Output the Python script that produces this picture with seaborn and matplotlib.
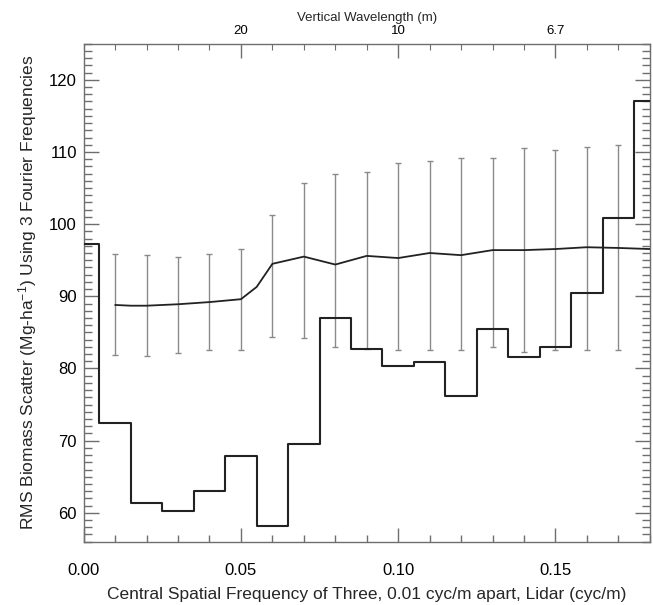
import matplotlib
matplotlib.use("Agg")
import matplotlib.pyplot as plt
from matplotlib.ticker import MultipleLocator, FixedLocator
import seaborn as sns
import pandas as pd

# ---- data ----
step_freq = [0.00, 0.01, 0.02, 0.03, 0.04, 0.05, 0.06, 0.07, 0.08, 0.09,
             0.10, 0.11, 0.12, 0.13, 0.14, 0.15, 0.16, 0.17, 0.18]
step_rms = [97.3, 72.4, 61.3, 60.2, 63.05, 67.9, 58.2, 69.6, 87.05, 82.75,
            80.3, 80.9, 76.2, 85.5, 81.6, 83.0, 90.5, 100.9, 117.0]

line_freq = [0.01, 0.015, 0.02, 0.03, 0.04, 0.05, 0.055, 0.06, 0.07, 0.08,
             0.09, 0.10, 0.11, 0.12, 0.13, 0.14, 0.15, 0.16, 0.17, 0.18]
line_rms = [88.8, 88.7, 88.7, 88.9, 89.2, 89.6, 91.3, 94.5, 95.5, 94.4,
            95.6, 95.3, 96.0, 95.7, 96.4, 96.4, 96.55, 96.8, 96.7, 96.55]

err_freq = [0.01, 0.02, 0.03, 0.04, 0.05, 0.06, 0.07, 0.08, 0.09,
            0.10, 0.11, 0.12, 0.13, 0.14, 0.15, 0.16, 0.17]
err_low = [81.8, 81.7, 82.1, 82.5, 82.6, 84.4, 84.2, 83.0, 82.75,
           82.5, 82.6, 82.5, 83.0, 82.3, 82.6, 82.6, 82.5]
err_high = [95.8, 95.7, 95.5, 95.8, 96.5, 101.3, 105.7, 107.0, 107.2,
            108.4, 108.7, 109.1, 109.1, 110.6, 110.3, 110.7, 110.9]

top_tick_pos = [0.05, 0.10, 0.15]
top_tick_labels = ["20", "10", "6.7"]
bottom_ticks = [0.00, 0.05, 0.10, 0.15]
bottom_tick_labels = ["0.00", "0.05", "0.10", "0.15"]
y_ticks = [60, 70, 80, 90, 100, 110, 120]

# ---- style ----
sns.set_style("ticks")
plt.rcParams["font.family"] = ["Liberation Sans", "DejaVu Sans"]
plt.rcParams["mathtext.fontset"] = "custom"
plt.rcParams["mathtext.rm"] = "Liberation Sans"
plt.rcParams["mathtext.it"] = "Liberation Sans:italic"

spine_col = "#6e6e6e"
line_col = "#222222"
err_col = "#8a8a8a"

fig = plt.figure(figsize=(6.53, 6.05), dpi=100)
ax = fig.add_axes([0.1282, 0.1046, 0.8668, 0.8232])

step_df = pd.DataFrame({"f": step_freq, "v": step_rms})
line_df = pd.DataFrame({"f": line_freq, "v": line_rms})
err_df = pd.DataFrame({"f": err_freq, "lo": err_low, "hi": err_high})
err_df["mid"] = (err_df["lo"] + err_df["hi"]) / 2
err_df["half"] = (err_df["hi"] - err_df["lo"]) / 2

ax.errorbar(err_df["f"], err_df["mid"], yerr=err_df["half"], fmt="none",
            ecolor=err_col, elinewidth=1.0, capsize=2.5, capthick=1.0, zorder=2)
sns.lineplot(data=step_df, x="f", y="v", ax=ax, color=line_col, lw=1.5,
             drawstyle="steps-mid", estimator=None, sort=False, zorder=3)
sns.lineplot(data=line_df, x="f", y="v", ax=ax, color=line_col, lw=1.3,
             estimator=None, sort=False, zorder=3)

ax.set_xlim(0, 0.18)
ax.set_ylim(56, 125)

ax.set_xticks(bottom_ticks)
ax.set_xticklabels(bottom_tick_labels)
ax.set_yticks(y_ticks)
ax.xaxis.set_minor_locator(MultipleLocator(0.01))
ax.yaxis.set_minor_locator(MultipleLocator(1))

for s in ax.spines.values():
    s.set_color(spine_col)
    s.set_linewidth(1.0)

ax.tick_params(axis="both", which="both", direction="in", colors=spine_col,
               labelcolor="black", right=True)
ax.tick_params(axis="x", which="major", length=10, width=1, pad=15, labelsize=12)
ax.tick_params(axis="x", which="minor", length=5, width=1)
ax.tick_params(axis="y", which="major", length=11, width=1, pad=5, labelsize=12)
ax.tick_params(axis="y", which="minor", length=6, width=1)

ax.set_xlabel("Central Spatial Frequency of Three, 0.01 cyc/m apart, Lidar (cyc/m)",
              fontsize=12.5, labelpad=7)
ax.set_ylabel("RMS Biomass Scatter (Mg-ha$^{-1}$) Using 3 Fourier Frequencies",
              fontsize=12.5, labelpad=7)

ax2 = ax.twiny()
ax2.set_xlim(ax.get_xlim())
ax2.xaxis.set_major_locator(FixedLocator(top_tick_pos))
ax2.set_xticklabels(top_tick_labels)
ax2.xaxis.set_minor_locator(MultipleLocator(0.01))
for s in ax2.spines.values():
    s.set_visible(False)
ax2.tick_params(axis="x", which="both", direction="in", colors=spine_col,
                labelcolor="black")
ax2.tick_params(axis="x", which="major", length=10, width=1, pad=5, labelsize=9.5)
ax2.tick_params(axis="x", which="minor", length=4, width=0.8)
ax2.set_xlabel("Vertical Wavelength (m)", fontsize=9.5, labelpad=2.5)

fig.savefig("out.png", dpi=100)
